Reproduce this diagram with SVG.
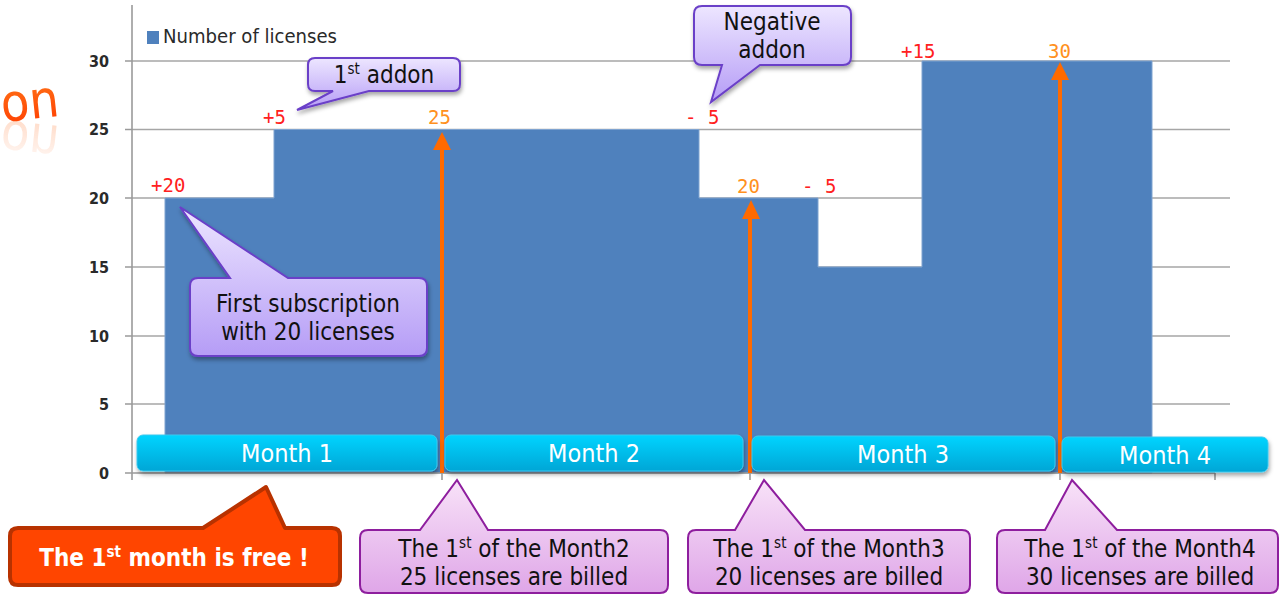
<svg xmlns="http://www.w3.org/2000/svg" width="1279" height="595" viewBox="0 0 1279 595">
<defs>
<linearGradient id="gCyan" x1="0" y1="0" x2="0" y2="1"><stop offset="0" stop-color="#00D4FF"/><stop offset="1" stop-color="#00A6D6"/></linearGradient>
<linearGradient id="gLav" x1="0" y1="0" x2="0" y2="1"><stop offset="0" stop-color="#EDE6FF"/><stop offset="1" stop-color="#B59CF6"/></linearGradient>
<linearGradient id="gPink" x1="0" y1="0" x2="0" y2="1"><stop offset="0" stop-color="#F8E2F8"/><stop offset="1" stop-color="#DFA6E8"/></linearGradient>
<linearGradient id="gOn" x1="0" y1="0" x2="0" y2="1"><stop offset="0" stop-color="#FF7A1A"/><stop offset="1" stop-color="#FF3A00"/></linearGradient>
<linearGradient id="gRefl" x1="0" y1="0" x2="0" y2="1"><stop offset="0" stop-color="#FF5A00" stop-opacity="0"/><stop offset="1" stop-color="#FF5A00" stop-opacity="0.35"/></linearGradient>
<filter id="sh" x="-10%" y="-20%" width="120%" height="160%"><feDropShadow dx="1" dy="3" stdDeviation="2" flood-color="#000" flood-opacity="0.35"/></filter>
</defs>
<style>
.grid{stroke:#A6A6A6;stroke-width:1.6;fill:none}
.axis{stroke:#9A9A9A;stroke-width:1.6;fill:none}
.ylab{font-family:'DejaVu Sans Condensed','DejaVu Sans',sans-serif;font-stretch:condensed;font-size:16px;font-weight:bold;fill:#2A2A2A;text-anchor:end}
.delta{font-family:'DejaVu Sans Mono','Liberation Mono',monospace;font-size:19px;fill:#FF2020}
.tot{font-family:'DejaVu Sans Mono','Liberation Mono',monospace;font-size:19px;fill:#FF9020}
.arrow{stroke:#FF6A00;stroke-width:4;fill:none}
.head{fill:#FF6A00}
.month{fill:url(#gCyan);stroke:#3FC8EE;stroke-width:1;filter:url(#sh)}
.mtxt{font-family:'DejaVu Sans Condensed','DejaVu Sans',sans-serif;font-stretch:condensed;font-size:25px;fill:#FFFFFF;text-anchor:middle}
.lav{fill:url(#gLav);stroke:#6B3FC8;stroke-width:2;filter:url(#sh)}
.pink{fill:url(#gPink);stroke:#8E1E9E;stroke-width:2}
.ctxt{font-family:'DejaVu Sans Condensed','DejaVu Sans',sans-serif;font-stretch:condensed;font-size:24px;fill:#111;text-anchor:middle}
.btxt{font-family:'DejaVu Sans Condensed','DejaVu Sans',sans-serif;font-stretch:condensed;font-size:24px;fill:#111;text-anchor:middle}
</style>

<g id="title-fragment">
<text x="1" y="119" font-family="'DejaVu Sans Condensed','DejaVu Sans',sans-serif" font-stretch="condensed" font-size="52" fill="url(#gOn)" transform="rotate(-6 30 105)">on</text>
<text x="1" y="119" font-family="'DejaVu Sans Condensed','DejaVu Sans',sans-serif" font-stretch="condensed" font-size="52" fill="url(#gRefl)" transform="translate(0 242) scale(1 -1) rotate(-6 30 105)" opacity="0.7">on</text>
</g>

<g id="chart-grid">
<line class="grid" x1="132" y1="61" x2="1230" y2="61"/>
<line class="grid" x1="132" y1="129.5" x2="1230" y2="129.5"/>
<line class="grid" x1="132" y1="198" x2="1230" y2="198"/>
<line class="grid" x1="132" y1="267" x2="1230" y2="267"/>
<line class="grid" x1="132" y1="336" x2="1230" y2="336"/>
<line class="grid" x1="132" y1="404" x2="1230" y2="404"/>
</g>

<g id="bars">
<path d="M165,473 V198 H274 V129.5 H699 V198 H818 V267 H922 V61 H1152 V473 Z" fill="#4F81BD" stroke="#7FA3D0" stroke-width="1"/>
</g>

<g id="axes">
<line class="axis" x1="132" y1="5" x2="132" y2="480"/>
<line class="axis" x1="132" y1="473" x2="1215" y2="473"/>
<path class="axis" d="M125,61H132M125,129.5H132M125,198H132M125,267H132M125,336H132M125,404H132M125,473H132"/>
<path class="axis" d="M442,473V480M750,473V480M1060,473V480M1215,473V480"/>
<text class="ylab" x="109" y="67">30</text>
<text class="ylab" x="109" y="135">25</text>
<text class="ylab" x="109" y="204">20</text>
<text class="ylab" x="109" y="273">15</text>
<text class="ylab" x="109" y="342">10</text>
<text class="ylab" x="109" y="410">5</text>
<text class="ylab" x="109" y="479">0</text>
</g>

<g id="legend">
<rect x="147" y="31" width="12" height="13" fill="#4F81BD"/>
<text x="163" y="43" font-family="'DejaVu Sans Condensed','DejaVu Sans',sans-serif" font-stretch="condensed" font-size="20" fill="#2A2A2A" textLength="174" lengthAdjust="spacingAndGlyphs">Number of licenses</text>
</g>

<g id="value-labels">
<text class="delta" x="151" y="192">+20</text>
<text class="delta" x="263" y="124">+5</text>
<text class="tot" x="428" y="124">25</text>
<text class="delta" x="685" y="124">- 5</text>
<text class="tot" x="737" y="193">20</text>
<text class="delta" x="802" y="193">- 5</text>
<text class="delta" x="901" y="58">+15</text>
<text class="tot" x="1048" y="58">30</text>
</g>

<g id="connectors">
<line class="arrow" x1="442" y1="473" x2="442" y2="148"/>
<polygon class="head" points="442,132 433,150 451,150"/>
<line class="arrow" x1="750" y1="473" x2="750" y2="217"/>
<polygon class="head" points="751,200 742,219 760,219"/>
<line class="arrow" x1="1060" y1="473" x2="1060" y2="78"/>
<polygon class="head" points="1060,62 1051,80 1069,80"/>
</g>

<g id="month1"><rect class="month" x="137" y="435" width="300" height="36" rx="6"/><text class="mtxt" x="287" y="462">Month 1</text></g>
<g id="month2"><rect class="month" x="445" y="435" width="298" height="36" rx="6"/><text class="mtxt" x="594" y="462">Month 2</text></g>
<g id="month3"><rect class="month" x="752" y="436" width="303" height="35" rx="6"/><text class="mtxt" x="903" y="463">Month 3</text></g>
<g id="month4"><rect class="month" x="1062" y="437" width="206" height="35" rx="6"/><text class="mtxt" x="1165" y="464">Month 4</text></g>

<g id="callout-addon">
<path class="lav" d="M315,58 H453 Q460,58 460,65 V84 Q460,91 453,91 H369 L297,110 L333,91 H315 Q308,91 308,84 V65 Q308,58 315,58 Z"/>
<text class="ctxt" x="384" y="83">1<tspan font-size="15" dy="-9">st</tspan><tspan dy="9"> addon</tspan></text>
</g>

<g id="callout-negative">
<path class="lav" d="M702,6 H843 Q851,6 851,14 V57 Q851,65 843,65 H760 L711,102 L722,65 H702 Q694,65 694,57 V14 Q694,6 702,6 Z"/>
<text class="ctxt" x="772" y="30">Negative</text>
<text class="ctxt" x="772" y="58">addon</text>
</g>

<g id="callout-first">
<path class="lav" d="M198,278 H230 L180,207 L288,278 H419 Q427,278 427,286 V348 Q427,356 419,356 H198 Q190,356 190,348 V286 Q190,278 198,278 Z"/>
<text class="ctxt" x="308" y="312">First subscription</text>
<text class="ctxt" x="308" y="340">with 20 licenses</text>
</g>

<g id="callout-free">
<path d="M18,528 H203 L266,487 L285,528 H332 Q340,528 340,536 V577 Q340,585 332,585 H18 Q10,585 10,577 V536 Q10,528 18,528 Z" fill="#FF4500" stroke="#B83200" stroke-width="4" stroke-linejoin="round"/>
<text x="174" y="566" font-family="'DejaVu Sans Condensed','DejaVu Sans',sans-serif" font-stretch="condensed" font-size="24" font-weight="bold" fill="#FFFFFF" text-anchor="middle">The 1<tspan font-size="15" dy="-9">st</tspan><tspan dy="9"> month is free !</tspan></text>
</g>

<g id="callout-month2">
<path class="pink" d="M368,530 H420 L457,480 L488,530 H660 Q668,530 668,538 V585 Q668,593 660,593 H368 Q360,593 360,585 V538 Q360,530 368,530 Z"/>
<text class="btxt" x="514" y="557">The 1<tspan font-size="15" dy="-9">st</tspan><tspan dy="9"> of the Month2</tspan></text>
<text class="btxt" x="514" y="585">25 licenses are billed</text>
</g>

<g id="callout-month3">
<path class="pink" d="M696,530 H735 L764,480 L805,530 H962 Q970,530 970,538 V585 Q970,593 962,593 H696 Q688,593 688,585 V538 Q688,530 696,530 Z"/>
<text class="btxt" x="829" y="557">The 1<tspan font-size="15" dy="-9">st</tspan><tspan dy="9"> of the Month3</tspan></text>
<text class="btxt" x="829" y="585">20 licenses are billed</text>
</g>

<g id="callout-month4">
<path class="pink" d="M1005,530 H1045 L1072,480 L1117,530 H1270 Q1278,530 1278,538 V585 Q1278,593 1270,593 H1005 Q997,593 997,585 V538 Q997,530 1005,530 Z"/>
<text class="btxt" x="1140" y="557">The 1<tspan font-size="15" dy="-9">st</tspan><tspan dy="9"> of the Month4</tspan></text>
<text class="btxt" x="1140" y="585">30 licenses are billed</text>
</g>
</svg>
